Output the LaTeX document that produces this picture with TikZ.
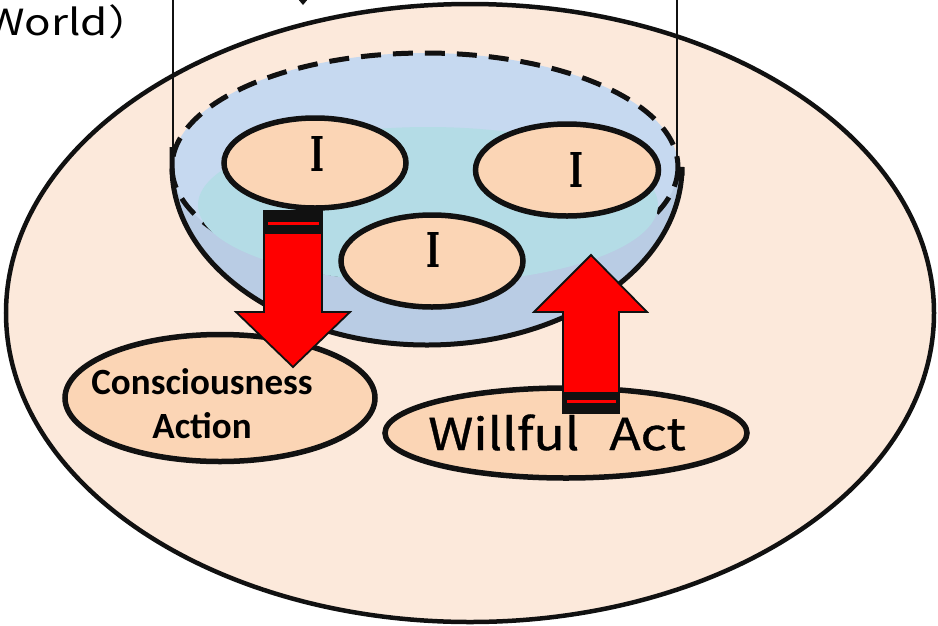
\documentclass[tikz,border=0pt]{standalone}
\usepackage{fontspec}
\usetikzlibrary{shapes.geometric,calc}
\newfontfamily\jpfont[FakeStretch=1.22]{Noto Sans CJK JP}
\newfontfamily\willfont[FakeStretch=1.17,FakeBold=0.8]{Noto Sans CJK JP}
\newfontfamily\calfont{Carlito}
\newfontfamily\slabfont[FakeStretch=0.62]{DejaVu Serif}
\definecolor{bgpeach}{HTML}{FCE9DB}
\definecolor{nodepeach}{HTML}{FBD5B5}
\definecolor{bowldark}{HTML}{B9CCE4}
\definecolor{bowllight}{HTML}{C6D9F0}
\definecolor{liquid}{HTML}{B4DCE6}
\definecolor{ink}{HTML}{111111}
\definecolor{arrowred}{HTML}{FF0000}
\begin{document}
\begin{tikzpicture}[x=1pt,y=-1pt,
  oval/.style={ellipse, draw=ink, line width=5.5pt, fill=nodepeach, inner sep=0pt},
  ilabel/.style={font=\slabfont\bfseries\fontsize{48}{48}\selectfont, inner sep=0pt},
  blockarrow/.style={fill=arrowred, draw=ink, line width=1.8pt, line join=miter},
  band/.style={fill=ink, draw=ink, line width=1pt},
  stripe/.style={fill=arrowred, draw=none},
  thinline/.style={draw=ink, line width=1.6pt}
]
\useasboundingbox (0,0) rectangle (938,625);
\clip (0,0) rectangle (938,625);

% outer world ellipse
\draw[fill=bgpeach, draw=ink, line width=4.5pt] (470,313) ellipse [x radius=464, y radius=309];

% bowl body
\fill[bowldark] (172,167) arc[start angle=180, end angle=0, x radius=255, y radius=178] -- cycle;
\fill[bowllight] (425,167) ellipse [x radius=253, y radius=114];
\draw[ink, line width=5pt, dash pattern=on 20pt off 12pt] (425,167) ellipse [x radius=253, y radius=114];
\fill[liquid] (428,205) ellipse [x radius=230, y radius=78];
\draw[ink, line width=5pt] (172,147) -- (172,167) arc[start angle=180, end angle=0, x radius=255, y radius=178] -- (682,173) -- (677,173);

% bracket lines from above
\coordinate (bl) at (173,0);
\coordinate (blend) at (173,170);
\coordinate (br) at (677,0);
\coordinate (brend) at (677,173);
\draw[thinline] (bl) -- (blend);
\draw[thinline] (br) -- (brend);
\fill[ink] (298,-1) -- (308,-1) -- (303,5) -- cycle;

% World text (cut at the left edge, as in the reference)
\node[anchor=base west, inner sep=0pt, font=\jpfont\fontsize{36}{36}\selectfont] (world) at (-14,35) {World）};

% I ellipses
\node[oval, minimum width=182pt, minimum height=90pt] (i1) at (315,163) {};
\node[oval, minimum width=183pt, minimum height=92pt] (i2) at (567,170) {};
\node[oval, minimum width=182pt, minimum height=92pt] (i3) at (432,261) {};
\node[ilabel] (i1t) at (317,154) {I};
\node[ilabel] (i2t) at (576,170) {I};
\node[ilabel] (i3t) at (433,250) {I};

% lower ellipses
\node[oval, minimum width=310pt, minimum height=127pt] (cons) at (220,398) {};
\node[align=center, inner sep=0pt, font=\calfont\bfseries\fontsize{37}{44}\selectfont] (const) at (202,404) {Consciousness\\Action};
\node[oval, minimum width=362pt, minimum height=90pt] (will) at (566,433) {};
\node[anchor=base west, inner sep=0pt, font=\willfont\fontsize{44}{44}\selectfont] (willt) at (428,450) {Willful\hspace{30pt}Act};

% down arrow from I1 to Consciousness
\coordinate (da) at (293,211);
\coordinate (dtip) at (293,367);
\draw[blockarrow] ($(da)+(-29,0)$) -- ($(da)+(29,0)$) -- ($(da)+(29,101)$) -- ($(da)+(57,101)$) -- (dtip) -- ($(da)+(-57,101)$) -- ($(da)+(-29,101)$) -- cycle;
\draw[band] ($(da)+(-29,0)$) rectangle ($(da)+(29,22)$);
\fill[stripe] ($(da)+(-25,11)$) rectangle ($(da)+(26,14)$);

% up arrow from Willful Act to bowl
\coordinate (ua) at (591,413);
\coordinate (utip) at (591,255);
\draw[blockarrow] ($(ua)+(-28,0)$) -- ($(ua)+(28,0)$) -- ($(ua)+(28,-101)$) -- ($(ua)+(56,-101)$) -- (utip) -- ($(ua)+(-57,-101)$) -- ($(ua)+(-28,-101)$) -- cycle;
\draw[band] ($(ua)+(-28,0)$) rectangle ($(ua)+(28,-21)$);
\fill[stripe] ($(ua)+(-24,-10)$) rectangle ($(ua)+(25,-13)$);
\end{tikzpicture}
\end{document}
